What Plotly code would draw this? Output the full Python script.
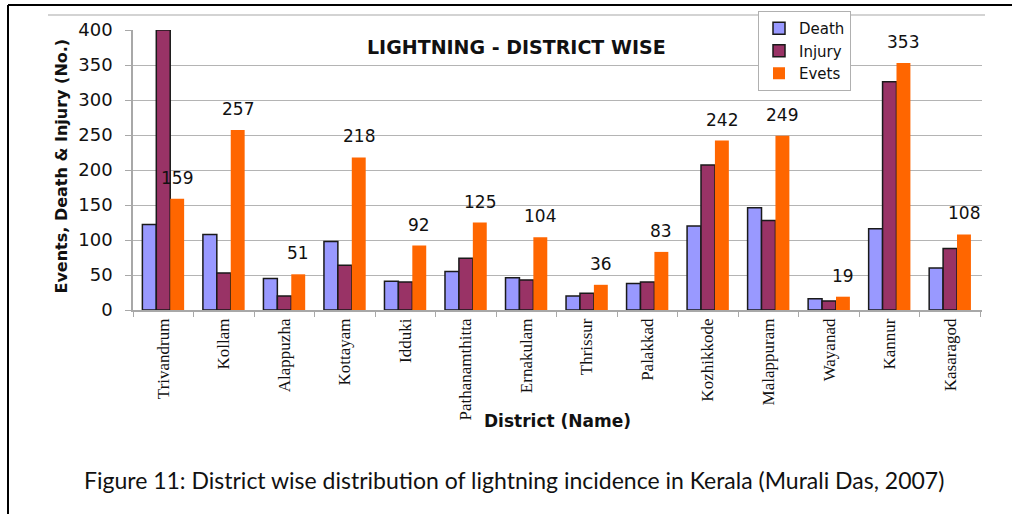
import plotly.graph_objects as go

# District-wise lightning statistics for Kerala
districts = ["Trivandrum", "Kollam", "Alappuzha", "Kottayam", "Idduki", "Pathanamthitta",
             "Ernakulam", "Thrissur", "Palakkad", "Kozhikkode", "Malappuram", "Wayanad",
             "Kannur", "Kasaragod"]
death = [122, 108, 45, 98, 41, 55, 46, 20, 38, 120, 146, 16, 116, 60]
injury = [400, 53, 20, 64, 40, 74, 43, 24, 40, 207, 128, 13, 326, 88]
events = [159, 257, 51, 218, 92, 125, 104, 36, 83, 242, 249, 19, 353, 108]
y_ticks = [0, 50, 100, 150, 200, 250, 300, 350, 400]

W, H = 1012, 514
L, R, T, B = 133, 30, 29, 204
PW, PH = W - L - R, H - T - B


def px_x(px):
    return (px - L) / PW


def px_y(py):
    return (H - B - py) / PH


SANS = "DejaVu Sans"
BAR_GAP = 0.31

fig = go.Figure()
fig.add_trace(go.Bar(name="Death", x=districts, y=death,
                     marker=dict(color="#9999FF", line=dict(color="#1a1a1a", width=1.5))))
fig.add_trace(go.Bar(name="Injury", x=districts, y=injury,
                     marker=dict(color="#993366", line=dict(color="#1a1a1a", width=1.5))))
fig.add_trace(go.Bar(name="Evets", x=districts, y=events,
                     marker=dict(color="#FF6600", line=dict(width=0))))

# value labels above the event bars (third bar of each group)
bar_px = (1 - BAR_GAP) * PW / len(districts) / 3
annotations = []
for d, v in zip(districts, events):
    annotations.append(dict(x=d, y=v, xref="x", yref="y", text=str(v), showarrow=False,
                            xshift=bar_px, yshift=9, xanchor="center", yanchor="bottom",
                            font=dict(family=SANS, size=17, color="#111")))


def label(px, py, text, size, family=SANS, angle=0):
    return dict(x=px_x(px), y=px_y(py), xref="paper", yref="paper", text=text,
                showarrow=False, xanchor="center", yanchor="middle", textangle=angle,
                font=dict(family=family, size=size, color="#111"))


annotations += [
    label(516, 46, "<b>LIGHTNING - DISTRICT WISE</b>", 19),
    label(62, 166, "<b>Events, Death & Injury (No.)</b>", 16, angle=-90),
    label(557, 421, "<b>District (Name)</b>", 17),
    label(514, 481, "Figure 11: District wise distribution of lightning incidence in Kerala (Murali Das, 2007)",
          23, family="Lato"),
]

shapes = [
    # outer frame (top and left edges)
    dict(type="line", xref="paper", yref="paper", x0=px_x(8), x1=px_x(1014), y0=px_y(4), y1=px_y(4),
         line=dict(color="black", width=2)),
    dict(type="line", xref="paper", yref="paper", x0=px_x(8), x1=px_x(8), y0=px_y(4), y1=px_y(516),
         line=dict(color="black", width=2)),
    # chart area top edge
    dict(type="line", xref="paper", yref="paper", x0=px_x(48), x1=px_x(985), y0=px_y(14), y1=px_y(14),
         line=dict(color="#c4c4c4", width=1.5)),
]

fig.update_layout(
    width=W, height=H,
    margin=dict(l=L, r=R, t=T, b=B),
    paper_bgcolor="white", plot_bgcolor="white",
    barmode="group", bargap=BAR_GAP, bargroupgap=0,
    showlegend=True,
    legend=dict(x=px_x(758), y=px_y(11), xanchor="left", yanchor="top",
                bgcolor="white", bordercolor="#b0b0b0", borderwidth=1,
                font=dict(family=SANS, size=15, color="#111"), itemwidth=30),
    annotations=annotations,
    shapes=shapes,
)

fig.update_xaxes(
    type="category", tickangle=-90,
    tickfont=dict(family="Liberation Serif", size=17, color="#111"),
    showline=True, linecolor="#a8a8a8", linewidth=1.5,
    ticks="outside", tickson="boundaries", ticklen=5, tickcolor="#a8a8a8",
    showgrid=False,
)
fig.update_yaxes(
    range=[0, 400], tickvals=y_ticks,
    tickfont=dict(family=SANS, size=18, color="#111"),
    showgrid=True, gridcolor="#b4b4b4", gridwidth=1,
    showline=True, linecolor="#a8a8a8", linewidth=1.5,
    ticks="outside", ticklen=6, tickcolor="#a8a8a8", ticklabelstandoff=9,
    zeroline=False,
)

fig.write_html("out.html")
